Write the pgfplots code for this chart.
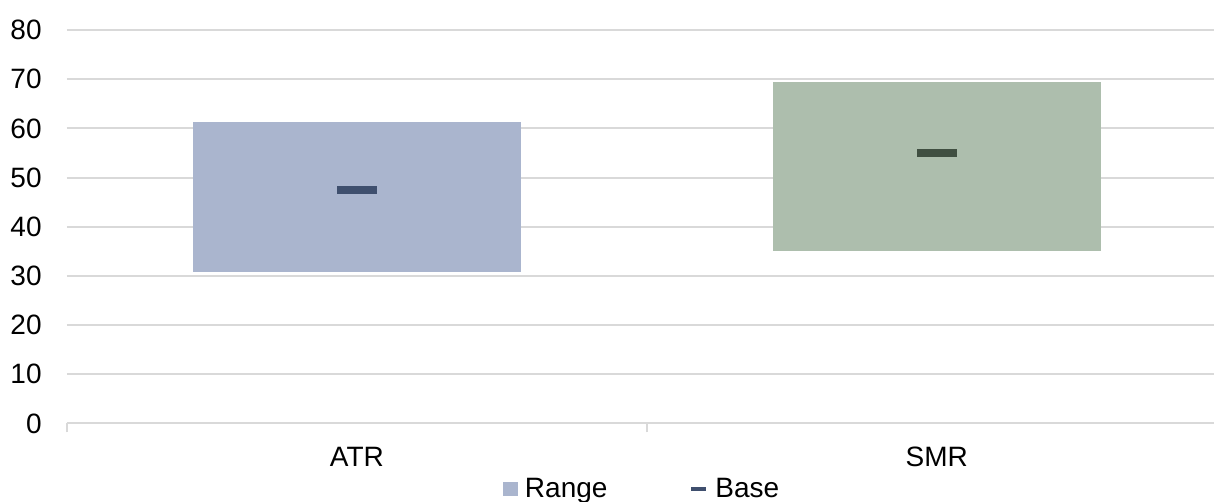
\documentclass[border=0pt]{standalone}
\usepackage{pgfplots}
\pgfplotsset{compat=1.18}
\usepackage{fontspec}
\setmainfont{Liberation Sans}
\definecolor{gridc}{HTML}{D9D9D9}
\definecolor{atrfill}{HTML}{AAB5CE}
\definecolor{smrfill}{HTML}{ADBEAD}
\definecolor{atrbase}{HTML}{3F4F6E}
\definecolor{smrbase}{HTML}{404F41}
\newcommand\fs{\fontsize{14}{17}\selectfont}
\begin{document}
\begin{tikzpicture}
\begin{axis}[
  at={(0,0)}, anchor=south west,
  scale only axis, width=573.5pt, height=196.75pt,
  xmin=-0.5, xmax=1.478, ymin=0, ymax=80,
  ytick={0,10,...,80},
  xtick={0,1}, xticklabels={ATR,SMR},
  minor xtick={-0.5,0.5,1.5},
  major tick length=0pt, minor tick length=4.5pt, tick align=outside,
  xtick pos=bottom, ytick pos=left,
  ymajorgrids, xmajorgrids=false,
  grid style={gridc, line width=1pt},
  every minor tick/.append style={gridc, line width=0.75pt},
  axis line style={draw=none},
  tick label style={font=\fs, inner sep=0pt},
  yticklabel style={anchor=east, xshift=-12.5pt},
  xticklabel style={anchor=north, yshift=-11.6pt},
  /pgf/number format/assume math mode=true,
  legend columns=2,
  legend style={at={(0.3801,-0.167)}, anchor=west, draw=none, fill=none,
    inner sep=0pt, outer sep=0pt, font=\fs, nodes={inner sep=0pt},
    /tikz/every odd column/.append style={column sep=3.5pt},
    /tikz/every even column/.append style={column sep=41pt}},
]
\addplot[ybar stacked, bar width=164pt, draw=none, fill=none, forget plot]
  coordinates {(0,30.8) (1,35.1)};
\addplot[ybar stacked, bar width=164pt, draw=none, fill=atrfill,
  legend image code/.code={\fill[atrfill] (0pt,-3.5pt) rectangle (7.5pt,3.5pt);}]
  coordinates {(0,30.5) (1,0)};
\addlegendentry{Range}
\addplot[ybar stacked, bar width=164pt, draw=none, fill=smrfill, forget plot]
  coordinates {(0,0) (1,34.3)};
\addplot[only marks, mark=-, mark size=10pt, mark options={line width=4pt, draw=atrbase},
  legend image code/.code={\draw[atrbase, line width=2pt] (0pt,0pt) -- (7.5pt,0pt);}]
  coordinates {(0,47.5)};
\addlegendentry{Base}
\addplot[only marks, mark=-, mark size=10pt, mark options={line width=4pt, draw=smrbase}, forget plot]
  coordinates {(1,55.0)};
\end{axis}
\pgfresetboundingbox
\useasboundingbox (-33.5pt,-39.25pt) rectangle (573.5pt,211.75pt);
\end{tikzpicture}
\end{document}
